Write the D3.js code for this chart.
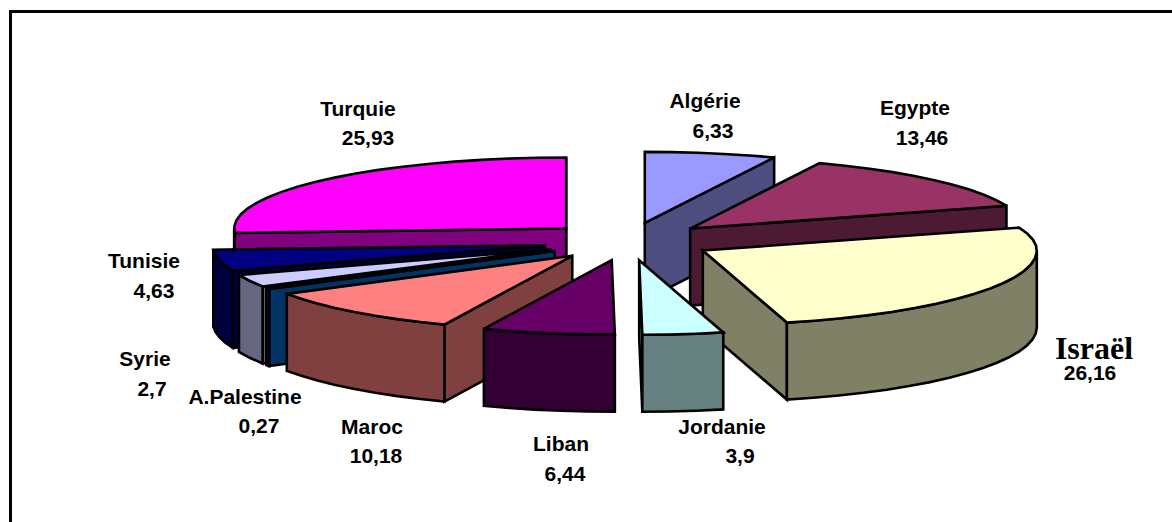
<!DOCTYPE html>
<html><head><meta charset="utf-8">
<script src="https://cdnjs.cloudflare.com/ajax/libs/d3/7.8.5/d3.min.js"></script>
<style>html,body{margin:0;padding:0;background:#fff}svg{display:block}</style></head>
<body><svg id="c" width="1172" height="522"></svg>
<script>
const categories=["Algérie","Egypte","Israël","Jordanie","Liban","Maroc","A.Palestine","Syrie","Tunisie","Turquie"];
const values=[6.33,13.46,26.16,3.9,6.44,10.18,0.27,2.7,4.63,25.93];
const valueLabels=["6,33","13,46","26,16","3,9","6,44","10,18","0,27","2,7","4,63","25,93"];
const topColors=["#9999FF","#993366","#FFFFCC","#CCFFFF","#660066","#FF8080","#0066CC","#CCCCFF","#000080","#FF00FF"];
const labelX=[705,915,1094,722,561,372,245,145,144,358];
const labelY=[108,115,359,434,451,434,404,366,268,116];
const valueX=[713,922,1090,740,565,376,259,152,154,368];
const valueY=[138,145,380,463,481,463,433,396,298,145];

const W=1172,H=522,cx=628,cy=241.5,rxLeft=332,rxRight=334,ryBack=71,ryFront=74.5,depth=77,explode=85,flat=0.223;
const svg=d3.select("#c");
// Frame: only the top and left edges are visible in the reference
svg.append("path").attr("d",d3.line()([[10.5,H],[10.5,11.5],[W,11.5]])).attr("fill","none").attr("stroke","#000").attr("stroke-width",3);

const pie=d3.pie().sort(null).value(d=>d)(values);
const px=d3.scaleLinear().domain([-1,0,1]).range([-rxLeft,0,rxRight]);
const py=d3.scaleLinear().domain([-1,0,1]).range([-ryBack,0,ryFront]);
const slices=pie.map((p,i)=>{
  const mid=(p.startAngle+p.endAngle)/2;
  return {i,a0:p.startAngle,a1:p.endAngle,mid,ax:cx+explode*Math.sin(mid),ay:cy-explode*flat*Math.cos(mid)};
}).sort((a,b)=>Math.cos(b.mid)-Math.cos(a.mid));
const pt=(s,a,dz=0)=>[s.ax+px(Math.sin(a)),s.ay+py(-Math.cos(a))+dz];
const arcPts=(a0,a1,s,dz)=>{
  const n=Math.max(2,Math.ceil((a1-a0)/(Math.PI/36))),out=[];
  for(let k=0;k<=n;k++)out.push(pt(s,a0+(a1-a0)*k/n,dz));
  return out;
};
const line=d3.line().curve(d3.curveLinearClosed);
const g=svg.append("g").attr("stroke","#000").attr("stroke-width",2.6).attr("stroke-linejoin","miter").attr("stroke-miterlimit",3);
slices.forEach(s=>{
  const top=topColors[s.i],wall=d3.color(top);wall.r*=.5;wall.g*=.5;wall.b*=.5;
  const apex=[s.ax,s.ay],apexB=[s.ax,s.ay+depth];
  const walls=[];
  if(Math.sin(s.a1)>0)walls.push([apex,pt(s,s.a1),pt(s,s.a1,depth),apexB]);
  if(Math.sin(s.a0)<0)walls.push([apex,pt(s,s.a0),pt(s,s.a0,depth),apexB]);
  const f0=Math.max(s.a0,Math.PI/2),f1=Math.min(s.a1,3*Math.PI/2);
  if(f1>f0)walls.push([...arcPts(f0,f1,s,0),...arcPts(f0,f1,s,depth).reverse()]);
  walls.forEach(w=>g.append("path").attr("d",line(w)).attr("fill",wall.formatHex()));
  g.append("path").attr("d",line([apex,...arcPts(s.a0,s.a1,s,0)])).attr("fill",top);
});
const t=svg.append("g").attr("font-family","'Liberation Sans',Arial,sans-serif").attr("font-weight","bold").attr("font-size",21).attr("text-anchor","middle").attr("fill","#000");
categories.forEach((c,i)=>{
  const isr=c==="Israël";
  t.append("text").attr("x",labelX[i]).attr("y",labelY[i]).text(c)
   .attr("font-family",isr?"'Liberation Serif',serif":null).attr("font-size",isr?32:null);
  t.append("text").attr("x",valueX[i]).attr("y",valueY[i]).text(valueLabels[i]);
});
</script></body></html>
